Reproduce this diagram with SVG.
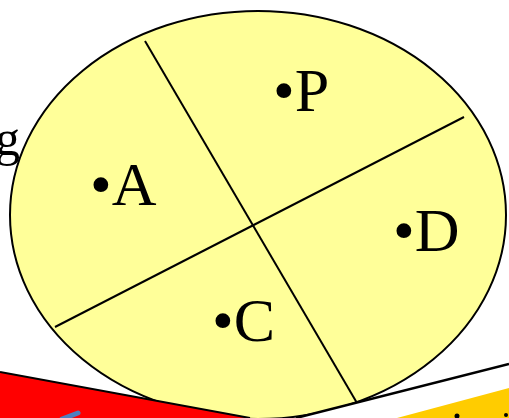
<svg xmlns="http://www.w3.org/2000/svg" width="509" height="418" viewBox="0 0 509 418">
<style>
.lbl{font-family:"Liberation Serif","Times New Roman",serif;font-size:62px;fill:#000}
.edge{stroke:#000;stroke-width:2;fill:none}
</style>
<rect width="509" height="418" fill="#fff"/>
<text x="-5" y="155" class="lbl" style="font-size:50px">g</text>
<g id="ellipse">
<ellipse cx="258" cy="215" rx="248" ry="204" fill="#FFFF99" stroke="#000" stroke-width="2"/>
</g>
<g id="connectors">
<line class="edge" x1="145" y1="41" x2="357" y2="403"/>
<line class="edge" x1="55" y1="327" x2="464" y2="117"/>
</g>
<g id="P"><text x="273" y="111" class="lbl">•P</text></g>
<g id="A"><text x="90" y="205" class="lbl">•A</text></g>
<g id="D"><text x="393" y="251" class="lbl">•D</text></g>
<g id="C"><text x="212" y="341" class="lbl">•C</text></g>
<g id="bottom">
<polygon points="0,372 250,418 0,418" fill="#FF0000"/>
<line x1="0" y1="372" x2="250" y2="418" stroke="#000" stroke-width="2"/>
<line x1="62" y1="419" x2="78" y2="413" stroke="#4F7FBF" stroke-width="5" stroke-linecap="round"/>
<polygon points="509,364 296,418 509,418" fill="#fff"/>
<line x1="509" y1="364" x2="296" y2="418" stroke="#000" stroke-width="2.5"/>
<polygon points="397,418 509,388 509,418" fill="#FFCC00"/>
<circle cx="457" cy="416" r="2.5" fill="#000"/>
<circle cx="506" cy="415" r="2" fill="#000"/>
</g>
</svg>
